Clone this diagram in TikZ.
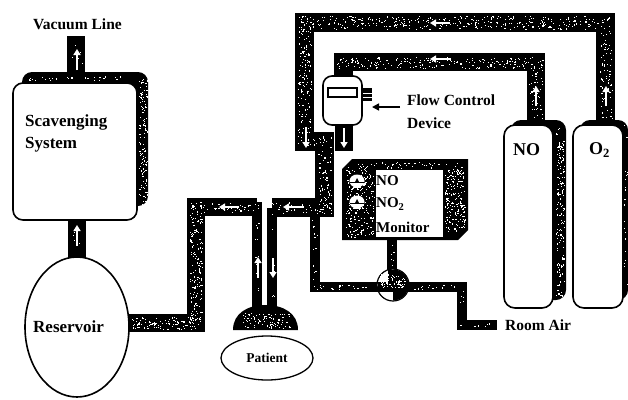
\documentclass[tikz,border=0pt]{standalone}
\usepackage{fontspec}
\setmainfont{Liberation Serif}
\usetikzlibrary{shapes.geometric,arrows.meta}
\tikzset{
  x=1pt,y=-1pt,
  pipew/.style={draw=black,line width=18.5pt,line cap=butt,line join=miter},
  pipen/.style={draw=black,line width=10pt,line cap=butt,line join=miter},
  flowarrow/.style={draw=white,line width=1.7pt,-{Triangle[width=7pt,length=6pt]}},
  lab/.style={font=\bfseries\fontsize{15.5}{17}\selectfont,inner sep=0pt,text=black,anchor=west},
  vessel/.style={draw=black,fill=white,line width=1.6pt,rounded corners=10pt,inner sep=0pt},
  shade/.style={fill=black,rounded corners=10pt},
}
\newcommand{\speck}[5]{% x1 y1 x2 y2 area-per-dot
  \pgfmathtruncatemacro\nd{max(1,abs((#3-#1)*(#4-#2))/#5)}
  \foreach \i in {1,...,\nd}{
    \pgfmathsetmacro\sa{#1+rnd*(#3-#1)}
    \pgfmathsetmacro\sb{#2+rnd*(#4-#2)}
    \fill[white] (\sa,\sb) rectangle ++(1.1,1.1);
  }}
\begin{document}
\begin{tikzpicture}
\useasboundingbox (0,0) rectangle (628,399);
\pgfmathsetseed{11}
% named pipe points
\coordinate (vacEnd) at (76,36);
\coordinate (scavTop) at (76,75);
\coordinate (scavBot) at (77,218);
\coordinate (resTop) at (77,260);
\coordinate (resOut) at (128,323);
\coordinate (c1) at (196,323);
\coordinate (c2) at (196,207);
\coordinate (c3) at (257,207);
\coordinate (maskL) at (257,308);
\coordinate (maskR) at (272,308);
\coordinate (c4) at (272,207.5);
\coordinate (c5) at (324.5,207.5);
\coordinate (c6) at (324.5,141.5);
\coordinate (c7) at (304.5,141.5);
\coordinate (c8) at (304.5,22.5);
\coordinate (c9) at (605.5,22.5);
\coordinate (o2Top) at (605.5,124);
\coordinate (d1) at (343.5,78);
\coordinate (d2) at (343.5,62);
\coordinate (d3) at (536,62);
\coordinate (noTop) at (536,124);
\coordinate (devOut) at (343.5,122);
\coordinate (devJoin) at (343.5,150);
\coordinate (c10) at (315,215);
\coordinate (c11) at (315,287);
\coordinate (c12) at (462,287);
\coordinate (c13) at (462,324.5);
\coordinate (airEnd) at (497,324.5);
\coordinate (monOut) at (392,238);

% backing shadows of the vessels
\fill[shade] (22,72) rectangle (148,206);
\fill[shade] (511,120) rectangle (566,300);
\fill[black] (580,120) [rounded corners=10pt] -- (628,120) -- (628,300) -- (580,300) -- cycle;

% pipes
\draw[pipew] (vacEnd) -- (scavTop);
\draw[pipew] (scavBot) -- (resTop);
\draw[pipew] (resOut) -- (c1) -- (c2) -- (c3) -- ++(0,0);
\draw[pipen] (252,207) -- (c3) -- (maskL);
\draw[pipen] (c4) -- (maskR);
\draw[pipew] (c4) -- (c5) -- (c6);
\draw[pipew] (c5) -- (c6) -- (c7) -- (c8) -- (c9) -- (o2Top);
\draw[pipew] (d1) -- (d2) -- (d3) -- (noTop);
\fill[black] (335,122) rectangle (352.5,150.5);
\draw[pipen] (c10) -- (c11) -- (c12) -- (c13) -- (airEnd);

% monitor stem
\draw[pipen] (monOut) -- (392,284);

% speckle in the pipes
\speck{299}{16}{612}{29}{11}
\speck{298}{29}{311}{146}{11}
\speck{599}{29}{612}{120}{16}
\speck{336}{57}{543}{68}{11}
\speck{529}{68}{543}{118}{16}
\speck{318}{150}{331}{214}{10}
\speck{311}{136}{331}{147}{12}
\speck{190}{202}{202}{328}{9}
\speck{202}{202}{259}{212}{13}
\speck{132}{317}{196}{329}{7}
\speck{255}{212}{259}{302}{28}
\speck{270}{202}{274}{302}{40}
\speck{272}{202}{318}{213}{20}
\speck{312}{217}{317}{289}{24}
\speck{317}{284.5}{458}{289.5}{14}
\speck{459}{289}{464}{327}{30}
\speck{459}{322}{492}{326}{16}
\speck{389}{243}{395}{280}{30}
\speck{70}{38}{83}{70}{60}
\speck{70}{222}{83}{254}{60}

% shadow speckle
\speck{139}{78}{147}{204}{8}
\speck{28}{76}{137}{80}{14}
\speck{556}{128}{564}{296}{8}
\speck{617}{124}{627}{296}{30}

% vessels
\node[vessel,minimum width=124pt,minimum height=137pt] (scav) at (75,151.5) {};
\node[vessel,minimum width=49pt,minimum height=183pt,rounded corners=11pt] (no) at (528.5,216.5) {};
\node[vessel,minimum width=50pt,minimum height=183pt,rounded corners=11pt] (otwo) at (598,216.5) {};
\node[ellipse,draw=black,fill=white,line width=1.6pt,minimum width=104pt,minimum height=140pt,inner sep=0pt] (res) at (77,327) {};

% patient mask
\fill[black] (233,330) .. controls (233,313) and (248,305) .. (265.5,305) .. controls (283,305) and (298,313) .. (298,330) -- cycle;
\speck{243}{313}{290}{328}{8}
\node[ellipse,draw=black,fill=white,line width=1.3pt,minimum width=92pt,minimum height=44pt,inner sep=0pt,font=\bfseries\fontsize{13.5}{15}\selectfont] (patient) at (267,358) {Patient};

% flow device
\fill[black] (362,88) rectangle (372,101);
\draw[white,line width=.8pt] (363,93) -- (372,93) (363,97) -- (372,97);
\node[vessel,minimum width=39pt,minimum height=49pt,rounded corners=9pt] (device) at (342.5,100.5) {};
\node[draw=black,fill=white,line width=1.6pt,minimum width=29pt,minimum height=9pt,inner sep=0pt] (devwin) at (342.5,92.5) {};

% monitor
\fill[black] (352,159) -- (468,159) -- (468,230) -- (458,240) -- (342,240) -- (342,169) -- cycle;
\speck{346}{163}{374}{237}{9}
\speck{374}{162}{464}{168}{14}
\speck{445}{168}{465}{232}{7}
\fill[white] (376,170) rectangle (443,237);
\foreach \gy/\gn in {181/ga,202/gb}{
  \fill[white] (357,\gy) ellipse (7.5 and 6.5);
  \fill[black] (350,\gy+1) rectangle (364,\gy+2.4);
  \fill[black] (355,\gy+1) -- (357,\gy-3) -- (359,\gy+1) -- cycle;
  \fill[white] (353,\gy+6) rectangle (361,\gy+7.3);
}
\node[lab,font=\bfseries\fontsize{15}{17}\selectfont] (mNO) at (376,181) {NO};
\node[lab,font=\bfseries\fontsize{15}{17}\selectfont] (mNOt) at (376,204) {NO\textsubscript{2}};
\node[lab,font=\bfseries\fontsize{15}{17}\selectfont] (mMon) at (376,227) {Monitor};

% valve
\node[circle,draw=black,fill=white,line width=1.2pt,minimum size=32pt,inner sep=0pt] (valve) at (393,285) {};
\fill[black] (393,285) -- (393,300.5) arc[start angle=90,end angle=0,radius=15.5] -- cycle;
\fill[black] (393,285) -- (408.5,285) arc[start angle=0,end angle=-90,radius=15.5] -- cycle;
\fill[black] (377.5,282) rectangle (408.5,292);
\fill[black] (388,269.5) rectangle (398,292);
\speck{380}{274}{405}{288}{5}

% white flow arrows
\draw[flowarrow] (77,70) -- (77,49);
\draw[flowarrow] (77,246) -- (77,225);
\draw[flowarrow] (450,23) -- (430,23);
\draw[flowarrow] (450,59) -- (430,59);
\draw[flowarrow] (536,106) -- (536,86);
\draw[flowarrow] (606,106) -- (606,86);
\draw[flowarrow] (306,128) -- (306,148);
\draw[flowarrow] (344,128) -- (344,148);
\draw[flowarrow] (239,207) -- (219,207);
\draw[flowarrow] (304,207) -- (283,207);
\draw[flowarrow] (258,278) -- (258,257);
\draw[flowarrow] (273,258) -- (273,278);

% labels
\node[lab] (vac) at (33,24) {Vacuum Line};
\node[lab,font=\bfseries\fontsize{17}{19}\selectfont] (sc1) at (25,122) {Scavenging};
\node[lab,font=\bfseries\fontsize{17}{19}\selectfont] (sc2) at (25,145) {System};
\node[lab,font=\bfseries\fontsize{17}{19}\selectfont] (rv) at (33,327) {Reservoir};
\node[lab] (fc1) at (407,100) {Flow Control};
\node[lab] (fc2) at (407,123) {Device};
\node[lab,font=\bfseries\fontsize{18}{20}\selectfont] (nolab) at (513,150) {NO};
\node[lab,font=\bfseries\fontsize{18}{20}\selectfont] (o2lab) at (589,150) {O\textsubscript{2}};
\node[lab] (air) at (505,325) {Room Air};
\coordinate (fcArrow) at (400,107);
\draw[black,line width=1.5pt,-{Triangle[width=7pt,length=7pt]}] (fcArrow) -- (372,107);
\end{tikzpicture}
\end{document}
